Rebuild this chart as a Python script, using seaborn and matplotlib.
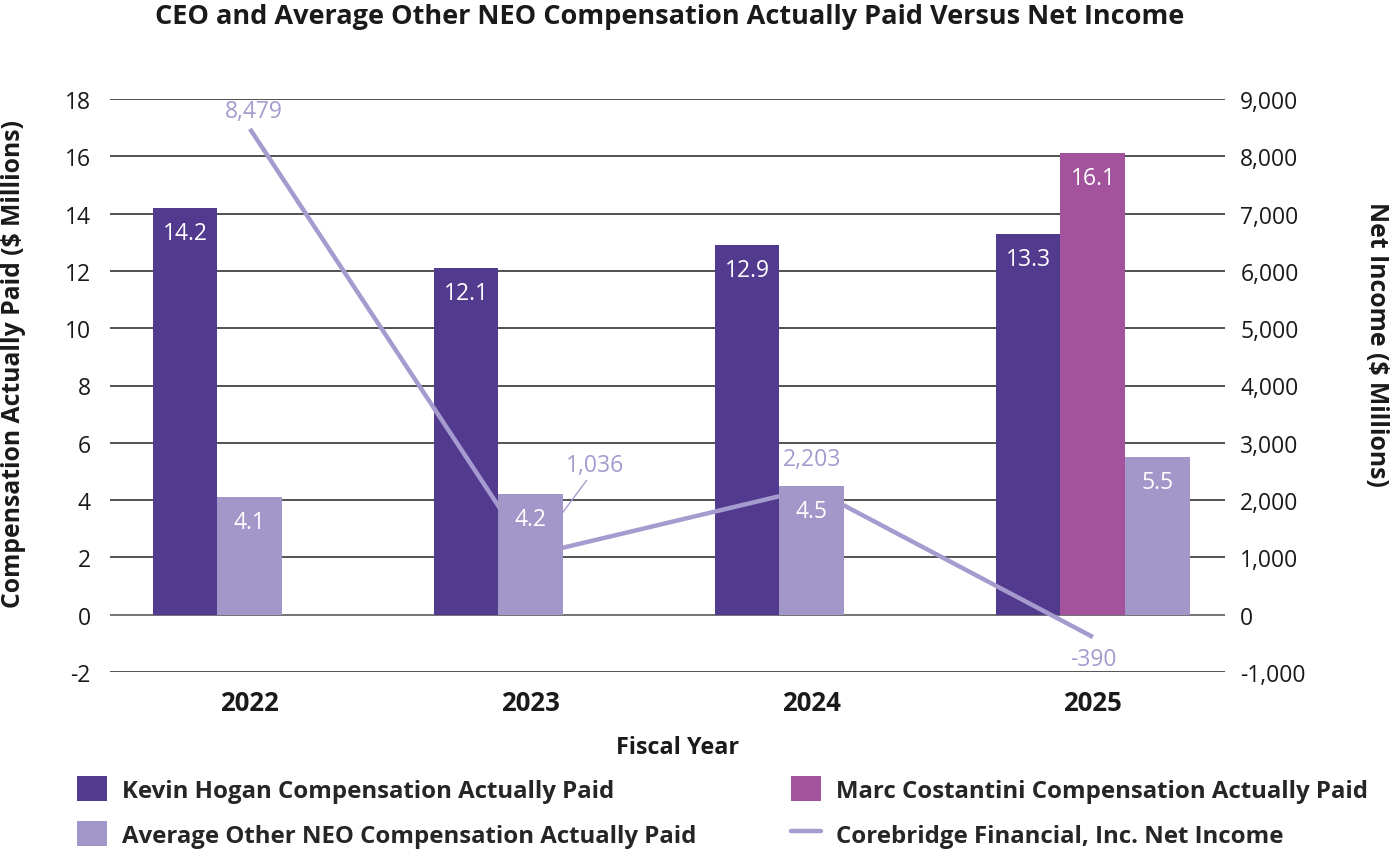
import numpy as np
import matplotlib
matplotlib.use("Agg")
import matplotlib.pyplot as plt
from matplotlib.patches import Patch
from matplotlib.lines import Line2D
import seaborn as sns
import pandas as pd

# ---- data ----
years = ["2022", "2023", "2024", "2025"]
kevin_cap = [14.2, 12.1, 12.9, 13.3]
marc_cap = [np.nan, np.nan, np.nan, 16.1]
avg_neo_cap = [4.1, 4.2, 4.5, 5.5]
net_income = [8479, 1036, 2203, -390]

series_names = [
    "Kevin Hogan Compensation Actually Paid",
    "Marc Costantini Compensation Actually Paid",
    "Average Other NEO Compensation Actually Paid",
    "Corebridge Financial, Inc. Net Income",
]

C_KEVIN = "#523B8F"
C_MARC = "#A3539C"
C_AVG = "#A297C8"
C_LINE = "#A69BCF"
TXT = "#1a1a1a"

sns.set_theme(style="white")
FONT = ["Open Sans", "DejaVu Sans"]
plt.rcParams["font.family"] = FONT

fig = plt.figure(figsize=(13.92, 8.54), dpi=100)
L, R, T, B = 110, 1225, 100, 673
W, H = 1392, 854
rect = [L / W, 1 - B / H, (R - L) / W, (B - T) / H]

# back: grid + CEO bars (left scale); mid: net income line (right scale);
# front: average NEO bars (left scale)
ax_back = fig.add_axes(rect, zorder=1)
ax_mid = fig.add_axes(rect, zorder=2, sharex=ax_back, frameon=False)
ax_front = fig.add_axes(rect, zorder=3, sharex=ax_back, sharey=ax_back, frameon=False)
for a in (ax_mid, ax_front):
    a.patch.set_visible(False)

x = np.arange(len(years))
bw = 0.231
NUM = 16.5

def label_bars(ax, pos, vals):
    for p, v in zip(pos, vals):
        if np.isnan(v):
            continue
        ax.annotate(f"{v:.1f}", xy=(p, v), xytext=(0, -18), textcoords="offset points",
                    ha="center", va="center", color="white", fontsize=NUM)

marc_arr = np.array(marc_cap, dtype=float)
has_marc = ~np.isnan(marc_arr)
kevin_pos = x - bw
marc_pos = x.astype(float)
avg_pos = np.where(has_marc, x + bw, x.astype(float))

# back axis
ax_back.bar(kevin_pos, kevin_cap, width=bw, color=C_KEVIN, edgecolor="none", zorder=3)
ax_back.bar(marc_pos[has_marc], marc_arr[has_marc], width=bw, color=C_MARC, edgecolor="none", zorder=3)
label_bars(ax_back, kevin_pos, kevin_cap)
label_bars(ax_back, marc_pos[has_marc], marc_arr[has_marc])
ax_back.set_ylim(-2, 18)
ax_back.set_yticks(np.arange(-2, 19, 2))
ax_back.set_yticklabels([f"{v}" for v in range(-2, 19, 2)])
ax_back.grid(axis="y", color="#222222", lw=1.1, zorder=0)
ax_back.grid(axis="x", visible=False)
ax_back.axhline(0, color="#777777", lw=1.4, zorder=1)
ax_back.set_xlim(-0.498, 3.47)
ax_back.set_xticks(x)
ax_back.set_xticklabels(years)

# mid axis: line
df_line = pd.DataFrame({"x": x, "ni": net_income})
sns.lineplot(data=df_line, x="x", y="ni", ax=ax_mid, color=C_LINE, lw=3.2,
             solid_capstyle="butt", zorder=2)
ax_mid.set_ylim(-1000, 9000)
ax_mid.set_yticks(np.arange(-1000, 9001, 1000))
ax_mid.set_yticklabels([f"{v:,}" for v in range(-1000, 9001, 1000)])
ax_mid.yaxis.tick_right()
ax_mid.set_xlabel("")
ax_mid.set_ylabel("")
ax_mid.grid(False)
ax_mid.tick_params(axis="x", labelbottom=False)

offsets = {0: (3, 13), 1: (46, 65), 2: (0, 21), 3: (0, -16)}
for i, v in enumerate(net_income):
    dx, dy = offsets[i]
    kw = dict(xy=(x[i], v), xytext=(dx, dy), textcoords="offset points",
              ha="center", va="center", color=C_LINE, fontsize=NUM)
    if i == 1:
        kw["arrowprops"] = dict(arrowstyle="-", color=C_LINE, lw=1.0,
                                shrinkA=0, shrinkB=34, relpos=(0.4, 0.0))
    ax_mid.annotate(f"{v:,}", **kw)

# front axis: average NEO bars
ax_front.bar(avg_pos, avg_neo_cap, width=bw, color=C_AVG, edgecolor="none", zorder=3)
label_bars(ax_front, avg_pos, avg_neo_cap)
ax_front.grid(False)
ax_front.tick_params(labelleft=False, labelbottom=False)

for a in (ax_back, ax_mid, ax_front):
    for s in a.spines.values():
        s.set_visible(False)
    a.tick_params(length=0)

ax_back.tick_params(axis="y", labelsize=NUM, labelcolor=TXT, pad=14)
ax_mid.tick_params(axis="y", labelsize=NUM, labelcolor=TXT, pad=11)
ax_back.tick_params(axis="x", labelsize=18.5, labelcolor=TXT, pad=12)
for lab in ax_back.get_xticklabels():
    lab.set_fontweight("bold")

# ---- titles / axis labels ----
fig.text(670 / W, 1 - 17 / H, "CEO and Average Other NEO Compensation Actually Paid Versus Net Income",
         ha="center", va="center", fontsize=19.5, fontweight="bold", color=TXT)
fig.text(14 / W, 1 - 364 / H, "Compensation Actually Paid ($ Millions)", rotation=90,
         ha="center", va="center", fontsize=17.8, fontweight="bold", color=TXT)
fig.text(1377 / W, 1 - 344 / H, "Net Income ($ Millions)", rotation=-90,
         ha="center", va="center", fontsize=17.8, fontweight="bold", color=TXT)
fig.text(678 / W, 1 - 748 / H, "Fiscal Year", ha="center", va="center",
         fontsize=16.8, fontweight="bold", color=TXT)

# ---- legend ----
handles = [
    Patch(facecolor=C_KEVIN, edgecolor="none"),
    Patch(facecolor=C_AVG, edgecolor="none"),
    Patch(facecolor=C_MARC, edgecolor="none"),
    Line2D([0], [0], color=C_LINE, lw=3.2),
]
labels = [series_names[0], series_names[2], series_names[1], series_names[3]]
fig.legend(handles, labels, loc="upper left", bbox_to_anchor=(77 / W, 1 - 777 / H),
           ncol=2, frameon=False, prop={"weight": "bold", "size": 17.3},
           handlelength=1.25, handleheight=1.25, handletextpad=0.62,
           columnspacing=3.95, labelspacing=0.76, borderpad=0, borderaxespad=0)

fig.savefig("out.png", dpi=100)
